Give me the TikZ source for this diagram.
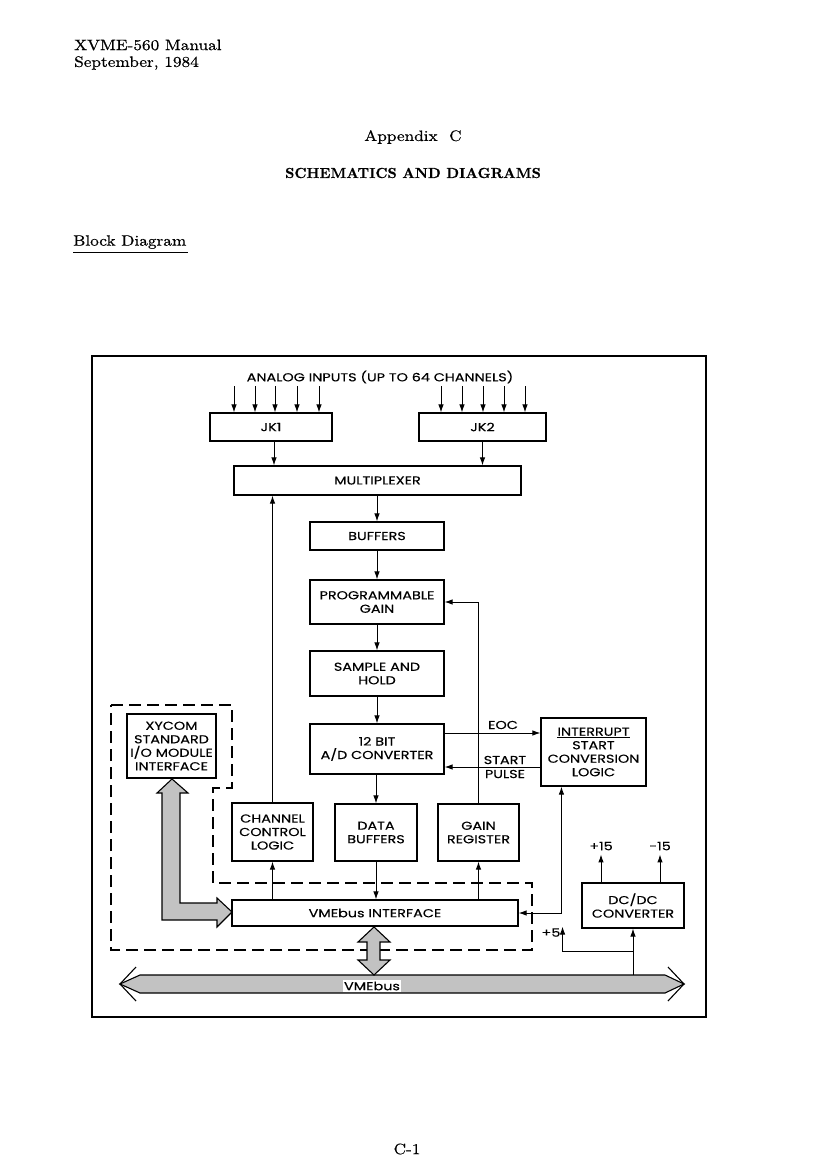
\documentclass[tikz,border=0pt]{standalone}
\usepackage{fontspec}
\newfontfamily\diagfont{Poppins}[FakeStretch=1.25,FakeBold=0.3]
\newfontfamily\pagefont{lmroman10-regular.otf}[FakeStretch=1.15,FakeBold=0.6]
\newfontfamily\titlefont{lmroman10-bold.otf}[FakeBold=0.5]
\usetikzlibrary{arrows.meta,calc}
\begin{document}
\begin{tikzpicture}[x=1pt,y=-1pt,
  blk/.style={draw,line width=1.1pt,align=center,font=\diagfont\fontsize{11.5}{13.5}\selectfont,inner sep=0pt},
  lbl/.style={font=\diagfont\fontsize{11.5}{13.5}\selectfont,inner sep=0pt,align=center},
  arr/.style={-{Latex[length=8pt,width=5.5pt]},line width=1pt},
  darr/.style={{Latex[length=8pt,width=5.5pt]}-{Latex[length=8pt,width=5.5pt]},line width=1pt},
  bus/.style={draw,line width=1.1pt,fill=black!24},
  dashbox/.style={line width=1.1pt,dash pattern=on 12pt off 6pt},
  page/.style={font=\pagefont\fontsize{15}{18}\selectfont,inner sep=0pt,align=left}]
\useasboundingbox (0,0) rectangle (824,1173);
\fill[white] (0,0) rectangle (824,1173);

% page texts
\node[page,anchor=west] (h1) at (74,45) {XVME-560 Manual};
\node[page,anchor=west] (h2) at (74,63) {September, 1984};
\node[page] (app) at (413,137) {Appendix\ \ C};
\node[page,font=\titlefont\fontsize{14.5}{18}\selectfont] (sch) at (413,173) {SCHEMATICS AND DIAGRAMS};
\node[page,anchor=west] (bd) at (73,242) {Block Diagram};
\draw[line width=0.9pt] (73,252) -- (188,252);
\node[page] (pg) at (407,1149) {C-1};

% outer frame
\draw[line width=1.3pt] (92,356) rectangle (706,1017);

% dashed boundary
\draw[dashbox] (111,705) -- (232,705) -- (232,788) -- (213,788) -- (213,883) -- (532,883) -- (532,950) -- (111,950) -- cycle;

% blocks
\node[blk,minimum width=122,minimum height=28] (jk1) at (271,427) {JK1};
\node[blk,minimum width=127,minimum height=28] (jk2) at (482.5,427) {JK2};
\node[blk,minimum width=287,minimum height=29] (mux) at (377.5,480.5) {MULTIPLEXER};
\node[blk,minimum width=134,minimum height=28] (buf) at (377,536) {BUFFERS};
\node[blk,minimum width=134,minimum height=44] (pga) at (377,602) {PROGRAMMABLE\\GAIN};
\node[blk,minimum width=134,minimum height=45] (sh) at (377,673.5) {SAMPLE AND\\HOLD};
\node[blk,minimum width=134,minimum height=50] (adc) at (377,749) {12 BIT\\A/D CONVERTER};
\node[blk,minimum width=81,minimum height=58] (ccl) at (272.5,832) {CHANNEL\\CONTROL\\LOGIC};
\node[blk,minimum width=82,minimum height=57] (dbuf) at (376,832.5) {DATA\\BUFFERS};
\node[blk,minimum width=81,minimum height=57] (greg) at (478.5,832.5) {GAIN\\REGISTER};
\node[blk,minimum width=286,minimum height=26] (vme) at (375,913) {VMEbus INTERFACE};
\node[blk,minimum width=105,minimum height=68] (intr) at (593.5,752) {\underline{INTERRUPT}\\START\\CONVERSION\\LOGIC};
\node[blk,minimum width=102,minimum height=45] (dcdc) at (633,905.5) {DC/DC\\CONVERTER};
\node[blk,minimum width=89,minimum height=64] (xy) at (171.5,746) {XYCOM\\STANDARD\\I/O MODULE\\INTERFACE};

% analog inputs
\node[lbl] (ain) at (380,377) {ANALOG INPUTS (UP TO 64 CHANNELS)};
\foreach \d [count=\i] in {-37,-16,4,26,48}{
  \coordinate (a\i) at ($(jk1.north)+(\d,-26)$);
  \draw[arr] (a\i) -- (a\i |- jk1.north);
}
\foreach \d [count=\i] in {-41.5,-20.5,0.5,21.5,42.5}{
  \coordinate (b\i) at ($(jk2.north)+(\d,-26)$);
  \draw[arr] (b\i) -- (b\i |- jk2.north);
}

% main chain
\coordinate (j1o) at ($(jk1.south)+(3,0)$);
\draw[arr] (j1o) -- (j1o |- mux.north);
\draw[arr] (jk2.south) -- (jk2.south |- mux.north);
\draw[arr] (mux.south -| buf.north) -- (buf.north);
\draw[arr] (buf.south) -- (pga.north);
\draw[arr] (pga.south) -- (sh.north);
\draw[arr] (sh.south) -- (adc.north);
\draw[arr] (adc.south -| dbuf.north) -- (dbuf.north);
\draw[arr] (dbuf.south) -- (dbuf.south |- vme.north);
\draw[arr] (ccl.north) -- (ccl.north |- mux.south);
\draw[arr] (vme.north -| ccl.south) -- (ccl.south);
\draw[arr] (vme.north -| greg.south) -- (greg.south);
\draw[arr] (greg.north) -- (greg.north |- pga.east) -- (pga.east);

% EOC / start pulse
\coordinate (eoc) at ($(adc.east)+(0,-16)$);
\coordinate (sp) at ($(adc.east)+(0,18)$);
\draw[arr] (eoc) -- (eoc -| intr.west);
\draw[arr] (sp -| intr.west) -- (sp);
\node[lbl] (eocl) at (503,725) {EOC};
\node[lbl] (spl1) at (505,760) {START};
\node[lbl] (spl2) at (505,774) {PULSE};

% interrupt <-> vme interface
\coordinate (ib) at ($(intr.south west)+(21,0)$);
\draw[darr] (vme.east) -- (vme.east -| ib) -- (ib);

% DC/DC
\coordinate (p15) at ($(dcdc.north)+(-32,0)$);
\coordinate (m15) at ($(dcdc.north)+(27,0)$);
\draw[arr] (p15) -- ++(0,-28) coordinate (p15t);
\draw[arr] (m15) -- ++(0,-28) coordinate (m15t);
\node[lbl,anchor=south] (p15l) at ($(p15t)+(0,-4)$) {+15};
\node[lbl,anchor=south] (m15l) at ($(m15t)+(0,-4)$) {-15};

% VMEbus
\path[bus] (120,984) -- (140,975) -- (665,975) -- (684,984) -- (665,993) -- (140,993) -- cycle;
\draw[line width=1.1pt] (136,967) -- (120,984) -- (136,1001);
\draw[line width=1.1pt] (668,967) -- (684,984) -- (668,1001);
\coordinate (bustop) at (633,975);
\node[lbl,fill=white,inner sep=1.5pt] (busl) at (372,986) {VMEbus};

% +5 supply
\coordinate (br) at (dcdc.south |- 0,951);
\draw[arr] (bustop) -- (dcdc.south);
\coordinate (p5) at ($(vme.south east)+(44,0)$);
\draw[arr] (br) -- (br -| p5) -- (p5);
\node[lbl,anchor=east] (p5l) at ($(p5)+(-2,6)$) {+5};

% vertical double bus arrow
\path[bus] (374,927) -- (390,942) -- (380,942) -- (380,960) -- (390,960) -- (374,975) -- (358,960) -- (367,960) -- (367,942) -- (358,942) -- cycle;

% XYCOM L-shaped arrow
\path[bus] (172,779) -- (188,793) -- (180,793) -- (180,903) -- (217,903) -- (217,898) -- (232,912) -- (217,927) -- (217,920) -- (162,920) -- (162,793) -- (157,793) -- cycle;
\end{tikzpicture}
\end{document}
